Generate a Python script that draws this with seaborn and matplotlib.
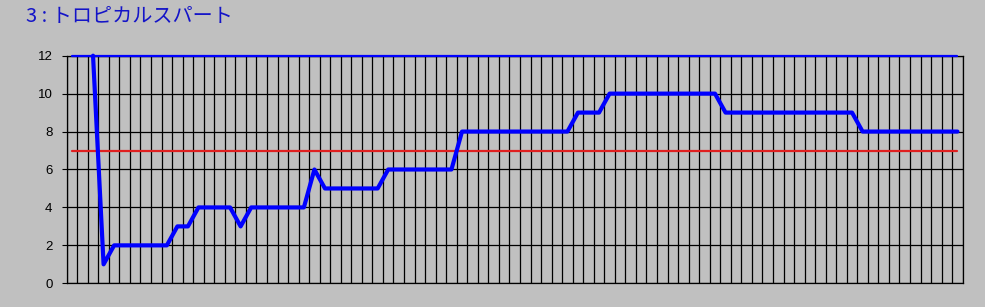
import numpy as np
import pandas as pd
import matplotlib
matplotlib.use("Agg")
import matplotlib.pyplot as plt
import seaborn as sns

# ---- data ----
title_text = "3 : トロピカルスパート"
n_points = 85
series_values = [np.nan, np.nan, 12, 1,
                 2, 2, 2, 2, 2, 2,
                 3, 3,
                 4, 4, 4, 4,
                 3,
                 4, 4, 4, 4, 4, 4,
                 6,
                 5, 5, 5, 5, 5, 5,
                 6, 6, 6, 6, 6, 6, 6,
                 8, 8, 8, 8, 8, 8, 8, 8, 8, 8, 8,
                 9, 9, 9,
                 10, 10, 10, 10, 10, 10, 10, 10, 10, 10, 10,
                 9, 9, 9, 9, 9, 9, 9, 9, 9, 9, 9, 9, 9,
                 8, 8, 8, 8, 8, 8, 8, 8, 8, 8]
max_value = 12
ref_value = 7
y_ticks = [0, 2, 4, 6, 8, 10, 12]

sns.set_theme(style="white")
plt.rcParams['font.family'] = ['Liberation Sans', 'Noto Sans CJK JP', 'DejaVu Sans']

idx = np.arange(n_points)
df = pd.DataFrame({"x": idx, "value": series_values,
                   "max": [max_value] * n_points, "ref": [ref_value] * n_points})

bg = "#c0c0c0"
fig = plt.figure(figsize=(9.85, 3.07), dpi=100, facecolor=bg)
ax = fig.add_axes([0.0677, 0.0772, 0.9097, 0.7414])
ax.set_facecolor(bg)

sns.lineplot(data=df, x="x", y="max", ax=ax, color="#0000ff", linewidth=1.6,
             clip_on=False, zorder=4)
sns.lineplot(data=df, x="x", y="ref", ax=ax, color="#e02020", linewidth=1.6, zorder=4)
sns.lineplot(data=df, x="x", y="value", ax=ax, color="#0000ff", linewidth=3.0,
             clip_on=False, zorder=5)

ax.set_xlim(-0.5, n_points - 0.5)
ax.set_ylim(0, 12)
ax.set_xticks(np.arange(-0.5, n_points, 1.0))
ax.set_xticklabels([])
ax.tick_params(axis='x', length=0)
ax.set_yticks(y_ticks)
ax.set_yticklabels([str(v) for v in y_ticks], fontsize=9.5, color="black")
ax.tick_params(axis='y', length=3.8, width=0.8, color="black", pad=6.5, left=True)
ax.grid(True, color="black", linewidth=0.9)
ax.set_axisbelow(True)
for s in ax.spines.values():
    s.set_visible(True)
    s.set_color("black")
    s.set_linewidth(0.9)
ax.set_xlabel("")
ax.set_ylabel("")

fig.text(0.0264, 0.946, title_text, color="#1414c8", fontsize=14.5,
         family=['Noto Sans CJK JP', 'DejaVu Sans'], va='center', ha='left')

fig.savefig("out.png", dpi=100, facecolor=bg)
